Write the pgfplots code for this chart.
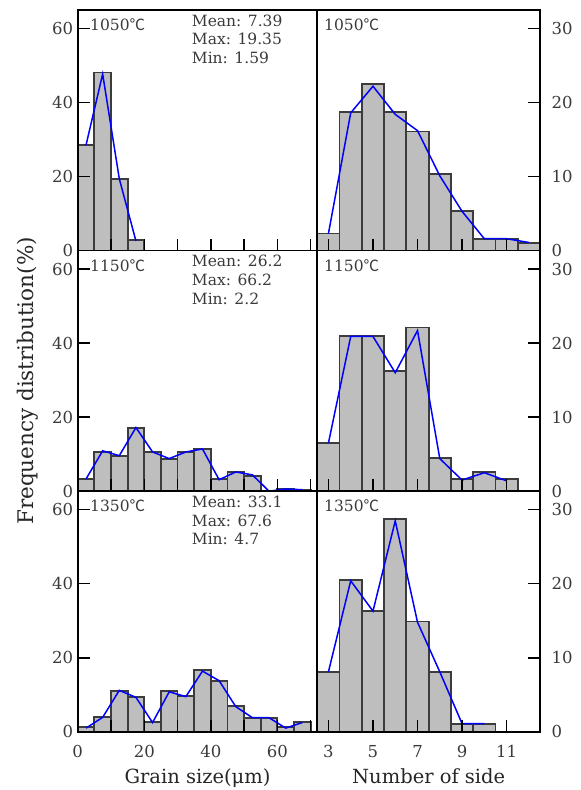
\documentclass[border=0pt]{standalone}
\usepackage{pgfplots}
\pgfplotsset{compat=1.18}
\usepackage{fontspec}
\setmainfont{DejaVu Serif}
\newfontfamily\cjk{Noto Sans CJK SC}
\newcommand{\dc}{{\cjk ℃}}
\definecolor{barfill}{HTML}{BEBEBE}
\definecolor{baredge}{HTML}{3C3C3C}
\definecolor{txt}{HTML}{3A3A3A}
\pgfplotsset{
 panel/.style={scale only axis, height=240.6pt, ymin=0, clip=false, axis on top,
   anchor=south west,
   axis line style={line width=1.7pt, black},
   tick style={line width=1.5pt, black},
   major tick length=12pt, minor tick length=12pt, tick align=inside,
   tick label style={font=\fontsize{16.5}{16.5}\selectfont, text=txt},
   /pgf/number format/assume math mode=true},
 leftp/.style={panel, width=239.6pt, xmin=0, xmax=72, ymax=65,
   xtick={0,20,40,60}, minor xtick={10,30,50,70}, ytick={0,20,40,60},
   xtick pos=bottom, ytick pos=left,
   yticklabel style={xshift=-1pt}, xticklabel style={yshift=-10pt}},
 rightp/.style={panel, width=222.7pt, xmin=2.5, xmax=12.5, ymax=32.5,
   xtick={3,5,7,9,11}, ytick={0,10,20,30},
   xtick pos=bottom, ytick pos=right, yticklabel pos=right,
   yticklabel style={xshift=8pt}, xticklabel style={yshift=-10pt}},
 bars/.style={ybar, fill=barfill, draw=baredge, line width=1.8pt, bar shift=0pt},
 fitline/.style={blue, line width=1.5pt, mark=none, sharp plot},
}
\newcommand{\plab}[2]{\node[anchor=base west, inner sep=0pt, text=txt, font=\fontsize{15.5}{15.5}\selectfont] at (axis description cs:0,1) [xshift=#1, yshift=-20.5pt] {#2};}
\newcommand{\stline}[2]{\node[anchor=base west, inner sep=0pt, text=txt, font=\fontsize{15.5}{15.5}\selectfont] at (axis description cs:0,1) [xshift=114pt, yshift=#1] {#2};}
\newcommand{\stats}[3]{\stline{-16.3pt}{Mean: #1}\stline{-35pt}{Max: #2}\stline{-53.7pt}{Min: #3}}
\begin{document}
\begin{tikzpicture}
\useasboundingbox (0,0) rectangle (581pt,790pt);
% ---------- top left
\begin{axis}[leftp, at={(77.7pt,539.4pt)}, xticklabels=\empty]
\addplot[bars, bar width=5] coordinates {(2.5,28.6)(7.5,48.1)(12.5,19.4)(17.5,2.8)};
\addplot[fitline] coordinates {(2.5,28.5)(7.5,47.7)(12.5,19.4)(17.5,2.6)};
\plab{12.3pt}{1050\dc}
\stats{7.39}{19.35}{1.59}
\end{axis}
% ---------- middle left
\begin{axis}[leftp, at={(77.7pt,298.8pt)}, xticklabels=\empty]
\addplot[bars, bar width=5] coordinates {(2.5,3.3)(7.5,10.6)(12.5,9.6)(17.5,17.0)(22.5,10.6)(27.5,8.8)(32.5,10.6)(37.5,11.4)(42.5,3.3)(47.5,5.2)(52.5,4.2)(62.5,0.5)(67.5,0.4)};
\addplot[fitline] coordinates {(2.5,3.3)(7.5,10.9)(12.5,9.6)(17.5,17.2)(22.5,10.6)(27.5,8.8)(32.5,10.6)(37.5,11.4)(42.5,3.1)(47.5,5.2)(52.5,4.4)(57.5,0)(62.5,0.6)(67.5,0.4)};
\plab{12.3pt}{1150\dc}
\stats{26.2}{66.2}{2.2}
\end{axis}
% ---------- bottom left
\begin{axis}[leftp, at={(77.7pt,58.2pt)}]
\addplot[bars, bar width=5] coordinates {(2.5,1.2)(7.5,3.9)(12.5,11.0)(17.5,9.5)(22.5,2.7)(27.5,11.0)(32.5,9.7)(37.5,16.7)(42.5,13.8)(47.5,6.9)(52.5,3.8)(57.5,3.8)(62.5,1.2)(67.5,2.6)};
\addplot[fitline] coordinates {(2.5,1.0)(7.5,3.9)(12.5,11.2)(17.5,9.3)(22.5,2.5)(27.5,10.8)(32.5,9.5)(37.5,16.4)(42.5,13.8)(47.5,6.8)(52.5,3.8)(57.5,3.8)(62.5,1.0)(67.5,2.5)};
\plab{12.3pt}{1350\dc}
\stats{33.1}{67.6}{4.7}
\end{axis}
% ---------- top right
\begin{axis}[rightp, at={(317.3pt,539.4pt)}, xticklabels=\empty]
\addplot[bars, bar width=1] coordinates {(3,2.3)(4,18.7)(5,22.5)(6,18.7)(7,16.1)(8,10.4)(9,5.4)(10,1.6)(11,1.6)(12,1.0)};
\addplot[fitline] coordinates {(3,2.3)(4,18.6)(5,22.2)(6,18.4)(7,16.2)(8,10.1)(9,5.3)(10,1.6)(11,1.6)(12,1.1)};
\plab{6.7pt}{1050\dc}
\end{axis}
% ---------- middle right
\begin{axis}[rightp, at={(317.3pt,298.8pt)}, xticklabels=\empty]
\addplot[bars, bar width=1] coordinates {(3,6.5)(4,21.0)(5,21.0)(6,16.2)(7,22.1)(8,4.5)(9,1.6)(10,2.6)(11,1.6)};
\addplot[fitline] coordinates {(3,6.5)(4,20.9)(5,20.9)(6,16.0)(7,21.7)(8,4.4)(9,1.5)(10,2.5)(11,1.4)};
\plab{6.7pt}{1150\dc}
\end{axis}
% ---------- bottom right
\begin{axis}[rightp, at={(317.3pt,58.2pt)}]
\addplot[bars, bar width=1] coordinates {(3,8.1)(4,20.5)(5,16.3)(6,28.7)(7,14.9)(8,8.1)(9,1.1)(10,1.1)};
\addplot[fitline] coordinates {(3,8.1)(4,20.4)(5,16.3)(6,28.5)(7,14.8)(8,8.1)(9,1.1)(10,1.1)};
\plab{6.7pt}{1350\dc}
\end{axis}
% ---------- axis titles
\node[anchor=base, inner sep=0pt, font=\fontsize{19.5}{19.5}\selectfont, text=black!85] at (197.5pt,6.7pt) {Grain size(μm)};
\node[anchor=base, inner sep=0pt, font=\fontsize{19.5}{19.5}\selectfont, text=black!85] at (428.7pt,6.7pt) {Number of side};
\node[anchor=base, inner sep=0pt, rotate=90, font=\fontsize{21.5}{21.5}\selectfont, text=black!85] at (33pt,409pt) {Frequency distribution(\%)};
\end{tikzpicture}
\end{document}
